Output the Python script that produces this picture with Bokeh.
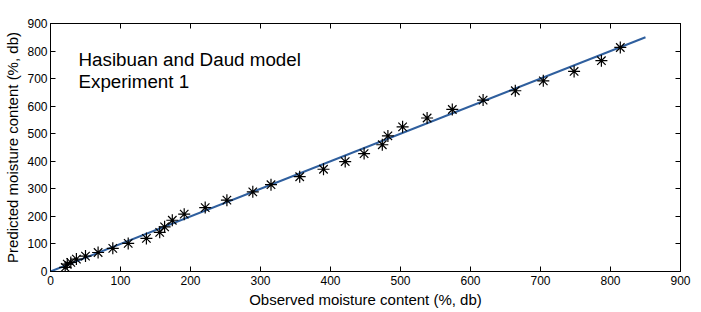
from bokeh.plotting import figure
from bokeh.models import Range1d, LinearAxis, FixedTicker, Label
from bokeh.embed import file_html
from bokeh.resources import INLINE

observed = [21, 24, 29, 37, 50, 68, 89, 111, 137, 156, 163, 174, 191, 221, 252,
            289, 315, 356, 390, 421, 448, 474, 482, 503, 538, 574, 618, 664, 704,
            748, 787, 814]
predicted = [15, 27, 33, 45, 56, 69, 84, 102, 120, 142, 162, 186, 208, 232, 259,
             289, 315, 344, 371, 399, 428, 460, 492, 525, 557, 588, 622, 656, 692,
             726, 765, 813]
line_x = [0, 850]
line_y = [0, 850]
ticks = [0, 100, 200, 300, 400, 500, 600, 700, 800, 900]

FONT = "Liberation Sans"

p = figure(width=701, height=312, output_backend="svg", toolbar_location=None,
           x_range=Range1d(0, 900), y_range=Range1d(0, 900),
           min_border_left=50, min_border_right=21, min_border_top=23,
           min_border_bottom=41)
p.border_fill_color = "white"
p.background_fill_color = "white"
p.outline_line_color = "black"
p.outline_line_width = 1
p.xgrid.visible = False
p.ygrid.visible = False

for ax in (p.xaxis[0], p.yaxis[0]):
    ax.ticker = FixedTicker(ticks=ticks)
    ax.major_tick_in = 5
    ax.major_tick_out = 0
    ax.minor_tick_line_color = None
    ax.axis_line_color = "black"
    ax.major_label_text_font = FONT
    ax.major_label_text_font_size = "12px"
    ax.major_label_text_color = "black"
    ax.axis_label_text_font = FONT
    ax.axis_label_text_font_size = "15px"
    ax.axis_label_text_font_style = "normal"
    ax.axis_label_text_color = "black"

p.xaxis[0].axis_label = "Observed moisture content (%, db)"
p.yaxis[0].axis_label = "Predicted moisture content (%, db)"
p.xaxis[0].major_label_standoff = 4
p.yaxis[0].major_label_standoff = 3
p.xaxis[0].axis_label_standoff = 3
p.yaxis[0].axis_label_standoff = 3

top = LinearAxis(ticker=FixedTicker(ticks=ticks), major_label_text_font_size="0px",
                 major_tick_in=5, major_tick_out=0, minor_tick_line_color=None,
                 major_label_text_color=None)
right = LinearAxis(ticker=FixedTicker(ticks=ticks), major_label_text_font_size="0px",
                   major_tick_in=5, major_tick_out=0, minor_tick_line_color=None,
                   major_label_text_color=None)
p.add_layout(top, "above")
p.add_layout(right, "right")
p.min_border_top = 23
p.min_border_right = 21

p.line(line_x, line_y, line_color="#2f5f9e", line_width=2)
p.scatter(observed, predicted, marker="asterisk", size=12, line_color="black",
          line_width=1.2)

p.add_layout(Label(x=40, y=731, text="Hasibuan and Daud model", text_font=FONT,
                   text_font_size="18.8px", text_color="black"))
p.add_layout(Label(x=40, y=653, text="Experiment 1", text_font=FONT,
                   text_font_size="18.8px", text_color="black"))

open("out.html", "w").write(file_html(p, INLINE))
